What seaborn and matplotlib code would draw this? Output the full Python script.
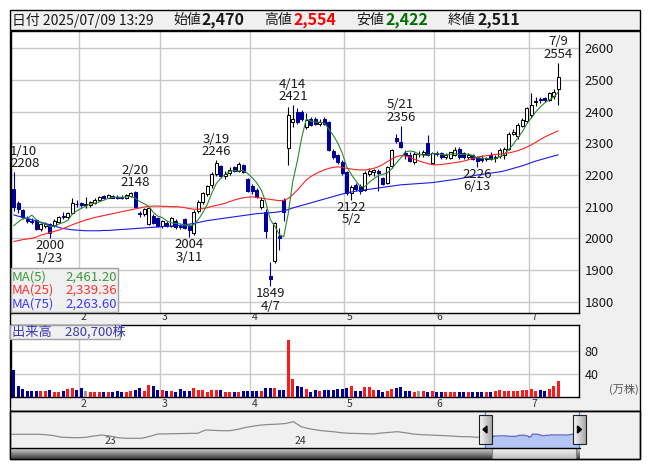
import numpy as np
import pandas as pd
import matplotlib
matplotlib.use("Agg")
import matplotlib.pyplot as plt
from matplotlib.patches import Rectangle, Polygon
from matplotlib.colors import LinearSegmentedColormap
from matplotlib.transforms import blended_transform_factory
import seaborn as sns

sns.set_style("white")
plt.rcParams["font.family"] = ["Noto Sans CJK JP", "DejaVu Sans"]

# ---------------- data ----------------
# trading sessions shown (2025), month -> days
session_days = {
    1: [10, 14, 15, 16, 17, 20, 21, 22, 23, 24, 27, 28, 29, 30, 31],
    2: [3, 4, 5, 6, 7, 10, 12, 13, 14, 17, 18, 19, 20, 21, 25, 26, 27, 28],
    3: [3, 4, 5, 6, 7, 10, 11, 12, 13, 14, 17, 18, 19, 21, 24, 25, 26, 27, 28, 31],
    4: [1, 2, 3, 4, 7, 8, 9, 10, 11, 14, 15, 16, 17, 18, 21, 22, 23, 24, 25, 28, 30],
    5: [1, 2, 7, 8, 9, 12, 13, 14, 15, 16, 19, 20, 21, 22, 23, 26, 27, 28, 29, 30],
    6: [2, 3, 4, 5, 6, 9, 10, 11, 12, 13, 16, 17, 18, 19, 20, 23, 24, 25, 26, 27, 30],
    7: [1, 2, 3, 4, 7, 8, 9],
}

opens = [2155, 2112, 2088, 2062, 2056, 2058, 2030, 2038, 2046, 2042,
         2052, 2070, 2066, 2080, 2110, 2112, 2106, 2104, 2112, 2122,
         2134, 2128, 2134, 2132, 2130, 2128, 2134, 2146, 2080, 2076,
         2046, 2072, 2064, 2040, 2050, 2040, 2056, 2040, 2060, 2040,
         2016, 2086, 2116, 2140, 2168, 2204, 2228, 2198, 2206, 2224,
         2212, 2232, 2186, 2164, 2154, 2100, 2084, 1880, 1928, 2006,
         2122, 2286, 2366, 2398, 2400, 2352, 2378, 2376, 2362, 2378,
         2368, 2276, 2262, 2242, 2210, 2142, 2170, 2166, 2154, 2204,
         2210, 2212, 2190, 2176, 2228, 2318, 2305, 2270, 2264, 2240,
         2266, 2266, 2300, 2238, 2268, 2268, 2258, 2254, 2264, 2282,
         2268, 2256, 2262, 2256, 2255, 2252, 2262, 2254, 2260, 2262,
         2282, 2330, 2322, 2355, 2372, 2389, 2432, 2440, 2442, 2438,
         2448, 2470]
highs = [2208, 2118, 2092, 2070, 2064, 2062, 2048, 2052, 2050, 2060,
         2072, 2082, 2084, 2126, 2120, 2116, 2130, 2118, 2126, 2134,
         2138, 2140, 2138, 2136, 2136, 2140, 2146, 2148, 2086, 2096,
         2098, 2078, 2068, 2058, 2054, 2066, 2060, 2046, 2064, 2046,
         2090, 2120, 2146, 2170, 2210, 2246, 2232, 2212, 2224, 2228,
         2240, 2236, 2190, 2172, 2160, 2132, 2092, 1926, 2052, 2034,
         2128, 2416, 2421, 2410, 2404, 2396, 2384, 2382, 2376, 2382,
         2372, 2282, 2266, 2246, 2214, 2168, 2176, 2172, 2212, 2222,
         2220, 2218, 2194, 2230, 2282, 2330, 2356, 2280, 2272, 2272,
         2276, 2278, 2326, 2274, 2276, 2272, 2268, 2274, 2290, 2290,
         2272, 2268, 2266, 2260, 2262, 2258, 2272, 2262, 2285, 2290,
         2335, 2345, 2365, 2380, 2416, 2458, 2446, 2446, 2446, 2462,
         2470, 2554]
lows = [2085, 2080, 2062, 2050, 2046, 2026, 2024, 2032, 2000, 2036,
        2048, 2060, 2060, 2078, 2100, 2098, 2096, 2098, 2108, 2118,
        2124, 2126, 2126, 2124, 2124, 2124, 2130, 2096, 2068, 2070,
        2042, 2044, 2036, 2034, 2036, 2036, 2030, 2028, 2030, 2004,
        2010, 2080, 2110, 2134, 2160, 2196, 2192, 2186, 2200, 2208,
        2208, 2206, 2146, 2140, 2126, 2094, 2000, 1849, 1922, 1962,
        2056, 2232, 2350, 2360, 2370, 2346, 2356, 2358, 2356, 2358,
        2276, 2252, 2236, 2200, 2138, 2122, 2150, 2140, 2150, 2196,
        2198, 2150, 2168, 2172, 2222, 2300, 2284, 2252, 2240, 2236,
        2258, 2258, 2260, 2234, 2260, 2250, 2252, 2250, 2260, 2250,
        2252, 2250, 2248, 2226, 2240, 2245, 2248, 2240, 2255, 2250,
        2278, 2325, 2315, 2350, 2365, 2380, 2418, 2428, 2432, 2434,
        2440, 2422]
closes = [2100, 2092, 2068, 2055, 2052, 2030, 2044, 2046, 2016, 2054,
          2066, 2068, 2080, 2112, 2108, 2104, 2106, 2114, 2122, 2132,
          2128, 2136, 2128, 2127, 2128, 2136, 2142, 2100, 2076, 2092,
          2095, 2048, 2040, 2054, 2040, 2064, 2036, 2036, 2034, 2026,
          2084, 2116, 2142, 2166, 2204, 2238, 2198, 2204, 2216, 2212,
          2234, 2210, 2150, 2150, 2132, 2120, 2022, 1872, 2048, 2000,
          2084, 2388, 2378, 2366, 2376, 2374, 2358, 2362, 2366, 2360,
          2280, 2258, 2242, 2206, 2142, 2162, 2156, 2150, 2206, 2212,
          2216, 2206, 2172, 2226, 2278, 2306, 2288, 2264, 2244, 2266,
          2266, 2272, 2264, 2268, 2266, 2256, 2262, 2272, 2280, 2256,
          2256, 2264, 2252, 2244, 2248, 2254, 2252, 2256, 2280, 2282,
          2330, 2335, 2358, 2374, 2410, 2421, 2434, 2436, 2438, 2458,
          2463, 2511]
# closes of the four sessions before 1/10, used to seed MA(5)
closes_prior = [2032, 2018, 2050, 2000]

ma25 = [1990, 1993, 1996, 1998, 2000, 2004, 2010, 2014, 2018, 2022,
        2026, 2031, 2037, 2043, 2048, 2053, 2058, 2062, 2066, 2069,
        2072, 2075, 2078, 2081, 2084, 2087, 2090, 2093, 2096, 2099,
        2101, 2102, 2102, 2101, 2101, 2100, 2100, 2099, 2097, 2094,
        2092, 2092, 2094, 2097, 2101, 2104, 2107, 2111, 2116, 2121,
        2125, 2128, 2130, 2131, 2129, 2127, 2125, 2123, 2121, 2119,
        2120, 2126, 2138, 2152, 2168, 2184, 2195, 2203, 2210, 2216,
        2221, 2224, 2226, 2224, 2221, 2219, 2217, 2216, 2216, 2218,
        2221, 2226, 2233, 2242, 2250, 2258, 2261, 2260, 2256, 2250,
        2245, 2240, 2236, 2233, 2232, 2233, 2235, 2237, 2239, 2241,
        2244, 2248, 2252, 2256, 2259, 2261, 2263, 2265, 2266, 2268,
        2270, 2273, 2277, 2282, 2288, 2295, 2303, 2312, 2320, 2327,
        2333, 2339.36]
ma75 = [2074, 2070, 2067, 2063, 2059, 2055, 2051, 2047, 2043, 2039,
        2035, 2031, 2029, 2027, 2026, 2025, 2024, 2024, 2024, 2024,
        2025, 2025, 2026, 2027, 2028, 2029, 2030, 2031, 2032, 2033,
        2034, 2035, 2036, 2037, 2038, 2039, 2040, 2041, 2043, 2045,
        2047, 2050, 2053, 2056, 2058, 2060, 2062, 2064, 2066, 2068,
        2070, 2072, 2074, 2076, 2078, 2079, 2080, 2081, 2082, 2084,
        2087, 2091, 2096, 2100, 2104, 2108, 2112, 2116, 2120, 2124,
        2128, 2132, 2136, 2140, 2143, 2146, 2149, 2151, 2153, 2155,
        2157, 2159, 2161, 2163, 2165, 2167, 2169, 2170, 2171, 2172,
        2173, 2174, 2175, 2176, 2178, 2180, 2182, 2184, 2186, 2188,
        2191, 2194, 2197, 2200, 2202, 2204, 2206, 2208, 2210, 2213,
        2217, 2221, 2225, 2229, 2234, 2239, 2244, 2248, 2252, 2256,
        2260, 2263.60]

# volume in units of 10,000 shares (万株)
volume = [46.7, 20.4, 14.6, 11.7, 10.5, 10.5, 10.5, 10.5, 12.8, 9.9,
          8.8, 11.7, 14.6, 16.4, 12.8, 16.4, 10.5, 9.9, 9.9, 9.9,
          9.9, 9.9, 9.9, 11.7, 9.9, 8.8, 11.7, 12.8, 16.4, 11.7,
          22.2, 19.9, 12.8, 12.8, 11.7, 10.5, 8.8, 14.6, 11.7, 11.7,
          16.4, 12.8, 12.8, 8.8, 12.8, 12.8, 12.8, 9.9, 9.9, 9.9,
          9.9, 10.5, 10.5, 11.7, 11.7, 11.7, 16.4, 16.4, 16.4, 12.8,
          12.8, 99.0, 31.0, 19.0, 17.5, 14.6, 9.9, 12.8, 11.7, 12.8,
          12.8, 12.8, 14.0, 14.6, 16.4, 20.4, 11.7, 11.7, 18.7, 17.5,
          12.8, 12.8, 8.8, 11.7, 14.6, 16.4, 18.7, 10.5, 10.5, 8.8,
          10.5, 11.7, 9.9, 10.5, 9.9, 8.8, 8.8, 9.9, 8.8, 9.9,
          9.9, 8.8, 8.8, 8.8, 8.8, 9.9, 8.8, 10.5, 12.8, 10.5,
          10.5, 10.5, 10.5, 12.8, 12.8, 14.6, 11.7, 12.8, 11.7, 14.6,
          20.4, 28.07]

# navigator: half-monthly closes from mid-2022 up to the first session shown
nav_history = [2359, 2359, 2359, 2359, 2359, 2300, 2150, 1903, 1870, 1842,
               1900, 2100, 2253, 2100, 1850, 1751, 1751, 1751, 2050, 2405,
               2420, 2450, 2470, 2500, 2511, 3013, 2960, 2906, 2906, 3100,
               3400, 3600, 3773, 3850, 3900, 4000, 4274, 3500, 3200, 3000,
               2850, 2754, 2600, 2511, 2480, 2450, 2405, 2550, 2650, 2754,
               2600, 2405, 2300, 2250, 2200, 2150, 2080, 2000, 1994, 1903]
nav_step = 10.3                       # sessions between history samples
nav_year_labels = ["23", "24", "25"]
nav_year_sessions = [-495, -249, -4]  # first session of each year, relative to 1/10

# highs / lows called out on the chart: (session index, kind)
callouts = [(0, "high"), (8, "low"), (27, "high"), (39, "low"), (45, "high"),
            (57, "low"), (62, "high"), (75, "low"), (86, "high"), (103, "low"),
            (121, "high")]

# ---------------- derived frames ----------------
dates = [(m, d) for m in sorted(session_days) for d in session_days[m]]
n = len(dates)
idx = np.arange(n)
o = np.array(opens, float); h = np.array(highs, float)
l = np.array(lows, float); c = np.array(closes, float)
ma5 = pd.Series(closes_prior + closes, dtype=float).rolling(5).mean().iloc[4:].to_numpy()
df = pd.DataFrame({"i": idx, "ma5": ma5, "ma25": ma25, "ma75": ma75, "vol": volume})
month_start = [dates.index((m, session_days[m][0])) for m in sorted(session_days)][1:]
month_names = [str(m) for m in sorted(session_days)][1:]

# ---------------- style ----------------
W, H = 653, 470
PANEL = "#f0f0f0"
GRID = "#c8c8c8"
NAVY = "#000099"
UPV, DNV, EQV = "#ff1a1a", "#000099", "#999999"
C_MA5, C_MA25, C_MA75 = "#2a8a2a", "#ff2020", "#1a1aee"

fig = plt.figure(figsize=(W / 100, H / 100), dpi=100)
fig.patch.set_facecolor("white")


def px_axes(x0, y0, x1, y1, z=0):
    return fig.add_axes([x0 / W, 1 - y1 / H, (x1 - x0) / W, (y1 - y0) / H], zorder=z)


def px_canvas(z):
    a = px_axes(0, 0, W, H, z)
    a.set_xlim(0, W); a.set_ylim(H, 0); a.axis("off")
    a.patch.set_alpha(0)
    return a


def box(a, x0, y0, x1, y1, fc, ec="black", lw=1.0, z=1):
    a.add_patch(Rectangle((x0, y0), x1 - x0, y1 - y0, facecolor=fc,
                          edgecolor=ec, lw=lw, zorder=z))


def gradient(a, x0, y0, x1, y1, c0, c1, horizontal=False, z=3):
    g = np.linspace(0, 1, 64)
    arr = g[None, :] if horizontal else g[:, None]
    cm = LinearSegmentedColormap.from_list("g", [c0, c1])
    a.imshow(arr, cmap=cm, extent=(x0, x1, y1, y0), aspect="auto",
             interpolation="bilinear", zorder=z)


under = px_canvas(-5)
over = px_canvas(10)

# panel backgrounds
box(under, 10, 10, 640, 30, PANEL)
box(under, 10, 30.7, 640, 410.7, PANEL)
box(under, 10, 410.7, 640, 459.3, PANEL)

# ---------------- price panel ----------------
X0, SP = 13.75, 4.5
ax = px_axes(10.5, 30.7, 579, 312.7, z=1)
ax.set_facecolor("white")
ax.set_xlim((10.5 - X0) / SP, (579 - X0) / SP)
ax.set_ylim(1765.3, 2655.6)
ax.set_yticks(range(1800, 2700, 100))
ax.yaxis.tick_right()
ax.tick_params(axis="y", length=0, pad=4, labelsize=9.5, labelcolor="#1a1a1a")
ax.set_xticks([])
ax.grid(axis="y", color=GRID, lw=1)
for s in month_start:
    ax.axvline(s - 0.5, color=GRID, lw=1, zorder=0)
for sp in ax.spines.values():
    sp.set_color("black"); sp.set_linewidth(1)

up = c > o
dn = c < o
wick_col = np.where(dn, NAVY, "black")
ax.vlines(idx, l, h, colors=wick_col, lw=0.8, zorder=3)
body_lo = np.minimum(o, c)
body_h = np.maximum(np.abs(c - o), 1.5)
ax.bar(idx, body_h, bottom=body_lo, width=0.68,
       color=np.where(dn, NAVY, "white"), edgecolor=np.where(dn, NAVY, "black"),
       lw=0.75, zorder=4)

sns.lineplot(data=df, x="i", y="ma75", ax=ax, color=C_MA75, lw=0.8, zorder=5)
sns.lineplot(data=df, x="i", y="ma25", ax=ax, color=C_MA25, lw=0.8, zorder=5)
sns.lineplot(data=df, x="i", y="ma5", ax=ax, color=C_MA5, lw=0.8, zorder=6)
ax.set_xlabel(""); ax.set_ylabel("")

for i, kind in callouts:
    m, d = dates[i]
    ha = "left" if i == 0 else "center"
    dx = -3.5 if i == 0 else 0
    if kind == "high":
        ax.annotate(f"{m}/{d}\n{highs[i]}", (i, highs[i]), xytext=(dx, 2),
                    textcoords="offset pixels", ha=ha, va="bottom",
                    fontsize=9.5, linespacing=0.95, color="#1a1a1a", zorder=8)
    else:
        ax.annotate(f"{lows[i]}\n{m}/{d}", (i, lows[i]), xytext=(dx, -1),
                    textcoords="offset pixels", ha=ha, va="top",
                    fontsize=9.5, linespacing=0.95, color="#1a1a1a", zorder=8)

# MA legend box
box(over, 10.7, 268.3, 118.3, 311.7, PANEL, ec="#a0a0a0", lw=1)
for yy, name, col, vals in [(276.7, "MA(5)", "#3a9a3a", ma5),
                            (290.0, "MA(25)", "#ff3333", ma25),
                            (304.0, "MA(75)", "#3a3aff", ma75)]:
    over.text(12, yy, name, color=col, fontsize=9.5, va="center", ha="left")
    over.text(117, yy, f"{vals[-1]:,.2f}", color=col, fontsize=9.5,
              va="center", ha="right")

# ---------------- volume panel ----------------
axv = px_axes(10.5, 325, 579, 397.3, z=1)
axv.set_facecolor("white")
axv.set_xlim(ax.get_xlim())
axv.set_ylim(0, 125.5)
axv.set_yticks([40, 80])
axv.yaxis.tick_right()
axv.tick_params(axis="y", length=0, pad=4, labelsize=9, labelcolor="#1a1a1a")
axv.set_xticks([])
axv.grid(axis="y", color=GRID, lw=1)
for s in month_start:
    axv.axvline(s - 0.5, color=GRID, lw=1, zorder=0)
for sp in axv.spines.values():
    sp.set_color("black"); sp.set_linewidth(1)
vcol = np.where(up, UPV, np.where(dn, DNV, EQV))
axv.bar(idx, df["vol"], width=0.66, color=vcol, lw=0, zorder=3)

box(over, 10.4, 325, 119.6, 339.3, PANEL, ec="#a0a0a0", lw=1)
over.text(12, 332, f"出来高　{volume[-1] * 10000:,.0f}株", color="#3a3ab0",
          fontsize=9.5, va="center", ha="left")
over.text(624, 389.5, "(万株)", color="#555555", fontsize=8, va="center", ha="center")

# month labels in the two strips
tr_top = blended_transform_factory(ax.transData, under.transData)
for s, name in zip(month_start, month_names):
    under.text(s + 0.6, 317.5, name, transform=tr_top, ha="center", va="center",
               fontsize=7.5, color="#333333", zorder=5)
    under.text(s + 0.6, 404.0, name, transform=tr_top, ha="center", va="center",
               fontsize=7.5, color="#333333", zorder=5)

# ---------------- navigator ----------------
NX0, NSP = 485.0, 0.775
axn = px_axes(10.5, 410.7, 579, 448.3, z=2)
axn.patch.set_alpha(0)
axn.set_xlim((10.5 - NX0) / NSP, (579 - NX0) / NSP)
axn.set_ylim(231, 5946)
axn.axis("off")
k = np.arange(len(nav_history), 0, -1)
nav_df = pd.DataFrame({"s": np.concatenate([-nav_step * k, [0.0]]),
                       "p": nav_history + [closes[0]]})
sns.lineplot(data=nav_df, x="s", y="p", ax=axn, color="#8c8c8c", lw=0.9)
axn.fill_between(idx, c, 231, color="#b6c6f4", lw=0, zorder=2)
sns.lineplot(x=idx, y=c, ax=axn, color="#6068c8", lw=0.9, zorder=3)
axn.set_xlim((10.5 - NX0) / NSP, (579 - NX0) / NSP)
axn.set_ylim(231, 5946)
for lab, s in zip(nav_year_labels, nav_year_sessions):
    axn.annotate(lab, (s, 0), xycoords=("data", "axes fraction"), xytext=(3, 2),
                 textcoords="offset pixels", ha="left", va="bottom",
                 fontsize=7.5, color="#333333", zorder=1)

# selection boundaries and handles
for xb in (484.6, 579.2):
    over.plot([xb, xb], [410.7, 448.3], color="#2a9df4", lw=1, zorder=2)
for x0, x1, tri in ((478.5, 491.5, "left"), (573.0, 586.0, "right")):
    gradient(over, x0, 415, x1, 444, "#fafafa", "#a8a8a8", horizontal=True, z=4)
    box(over, x0, 415, x1, 444, "none", ec="#202020", lw=0.8, z=5)
    cx, cy = (x0 + x1) / 2, 429.5
    pts = [[cx + 2, cy - 3.5], [cx + 2, cy + 3.5], [cx - 2, cy]] if tri == "left" \
        else [[cx - 2, cy - 3.5], [cx - 2, cy + 3.5], [cx + 2, cy]]
    over.add_patch(Polygon(pts, closed=True, color="black", zorder=6))

# scroll bar
gradient(over, 10.5, 448.3, 491.5, 459.3, "#d8d8d8", "#3a3a3a", z=3)
gradient(over, 491.5, 448.3, 575.5, 459.3, "#f6f6f6", "#bdbdbd", z=3)
gradient(over, 575.5, 448.3, 579.5, 459.3, "#d8d8d8", "#3a3a3a", z=3)
box(over, 491.5, 448.3, 575.5, 459.3, "none", ec="#808080", lw=0.8, z=4)
over.plot([10.5, 579.5], [448.3, 448.3], color="black", lw=1, zorder=5)
box(over, 10, 410.7, 640, 459.3, "none", ec="black", lw=1, z=6)

# ---------------- header ----------------
HY = 20
over.text(12.5, HY, "日付 2025/07/09 13:29", fontsize=10, va="center", ha="left", color="#1a1a1a")
for lx, vx, name, val, col in [(173, 202, "始値", opens[-1], "#1a1a1a"),
                               (264.5, 293.5, "高値", highs[-1], "#ff0000"),
                               (356, 385, "安値", lows[-1], "#007000"),
                               (448, 477, "終値", closes[-1], "#1a1a1a")]:
    over.text(lx, HY, name, fontsize=10, va="center", ha="left", color="#1a1a1a")
    over.text(vx, HY, f"{val:,}", fontsize=11.5, fontweight="bold",
              va="center", ha="left", color=col)

over.set_xlim(0, W); over.set_ylim(H, 0)
fig.savefig("out.png", dpi=100)
